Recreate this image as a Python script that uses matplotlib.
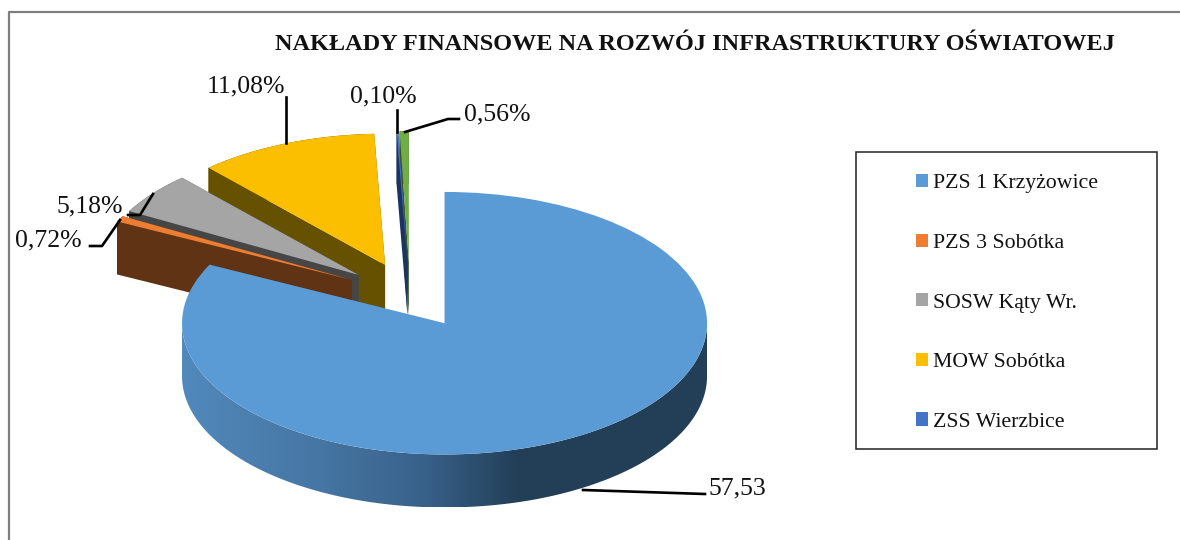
import numpy as np
import matplotlib
matplotlib.use("Agg")
import matplotlib.pyplot as plt
from matplotlib.colors import LinearSegmentedColormap
from matplotlib.lines import Line2D
from matplotlib.patches import Polygon, Rectangle

# data
schools = ["PZS 1 Krzyżowice", "PZS 3 Sobótka", "SOSW Kąty Wr.", "MOW Sobótka", "ZSS Wierzbice", ""]
shares = [82.36, 0.72, 5.18, 11.08, 0.10, 0.56]
share_labels = ["57,53", "0,72%", "5,18%", "11,08%", "0,10%", "0,56%"]
title = "NAKŁADY FINANSOWE NA ROZWÓJ INFRASTRUKTURY OŚWIATOWEJ"

top_colors = ["#5B9BD5", "#ED7D31", "#A5A5A5", "#FBBF00", "#4472C4", "#70AD47"]
wall_colors = ["#233F57", "#603314", "#464646", "#665100", "#1C3560", "#375623"]

W, H = 1180, 540
CX, CY, RX, RY = 410, 295.3, 262.5, 131.25   # pie centre and radii in pixels
DEPTH = 53 / RY

plt.rcParams['font.family'] = ['Liberation Serif', 'DejaVu Serif']


def fx(x):
    return x / W


def fy(y):
    return 1 - y / H


def arc_points(wedge, t0, t1):
    t = np.radians(np.linspace(t0, t1, 200))
    return wedge.center[0] + wedge.r * np.cos(t), wedge.center[1] + wedge.r * np.sin(t)


# puts the side faces of one slice under its top
def draw_walls(ax, wedge, color, z):
    xc, yc = wedge.center
    x, y = arc_points(wedge, wedge.theta1, wedge.theta2)
    for ex, ey in [(x[0], y[0]), (x[-1], y[-1])]:
        pts = [(xc, yc), (ex, ey), (ex, ey - DEPTH), (xc, yc - DEPTH)]
        ax.add_patch(Polygon(pts, closed=True, fc=color, ec='none', zorder=z))
    pts = list(zip(x, y)) + list(zip(x[::-1], y[::-1] - DEPTH))
    ax.add_patch(Polygon(pts, closed=True, fc=color, ec='none', zorder=z))


fig = plt.figure(figsize=(W / 100, H / 100), dpi=100)
ax = fig.add_axes([0, 0, 1, 1])
wedges, _ = ax.pie(shares, explode=[0.25] * len(shares), startangle=90, counterclock=False,
                   colors=top_colors, radius=1, wedgeprops={'linewidth': 0})
ax.set_aspect('auto')
xlim = (-CX / RX, (W - CX) / RX)
ylim = ((CY - H) / RY, CY / RY)

# back slices first, the big blue one last
order = [3, 2, 1, 5, 4]
z = 2
for i in order:
    draw_walls(ax, wedges[i], wall_colors[i], z)
    wedges[i].set_zorder(z + 1)
    z += 2

# front wall of the big slice, with the shading running left to right
blue = wedges[0]
x, y = arc_points(blue, 180, 360)
wall_pts = list(zip(x, y)) + list(zip(x[::-1], y[::-1] - DEPTH))
wall = Polygon(wall_pts, closed=True, fc='none', ec='none', zorder=z)
ax.add_patch(wall)
shade = LinearSegmentedColormap.from_list("wall", [(0, "#5189BC"), (0.26, "#4676A3"), (0.46, "#38618A"),
                                                   (0.64, "#233F57"), (1, "#233F57")])
im = ax.imshow(np.linspace(0, 1, 256).reshape(1, -1), cmap=shade, aspect='auto', zorder=z,
               extent=(x.min(), x.max(), y.min() - DEPTH, y.max()))
im.set_clip_path(wall)
blue.set_zorder(z + 1)
ax.set_xlim(xlim)
ax.set_ylim(ylim)
ax.axis('off')

# outer frame of the chart, open on the right
frame_color = "#7F7F7F"
fig.add_artist(Line2D([fx(9), fx(9), fx(1180)], [fy(540), fy(12), fy(12)], color=frame_color, lw=1.6))

fig.text(fx(695), fy(44), title, fontsize=17.5, fontweight='bold', ha='center', va='center', color='#111111')

# value labels with their leader lines
label_pos = {0: (708, 488, 'left'), 1: (82, 240, 'right'), 2: (123, 206, 'right'),
             3: (246, 86, 'center'), 4: (383, 96, 'center'), 5: (464, 114, 'left')}
leaders = {0: [(583, 490), (705, 494)],
           1: [(120, 220), (102, 246), (90, 246)],
           2: [(153, 194), (140, 215), (128, 215)],
           3: [(286, 97), (286, 143)],
           4: [(397, 110), (397, 132)],
           5: [(405, 132), (448, 119), (459, 119)]}
for i, lab in enumerate(share_labels):
    px, py, ha = label_pos[i]
    fig.text(fx(px), fy(py), lab, fontsize=18.5, ha=ha, va='center', color='#111111')
    xs = [fx(p[0]) for p in leaders[i]]
    ys = [fy(p[1]) for p in leaders[i]]
    fig.add_artist(Line2D(xs, ys, color='black', lw=1.9, zorder=20))

# legend box holds the first five schools only
fig.add_artist(Rectangle((fx(856), fy(449)), 301 / W, 297 / H, transform=fig.transFigure,
                         fc='white', ec='#222222', lw=1.1, zorder=1))
legend_handles = [Rectangle((0, 0), 1, 1, fc=c) for c in top_colors[:5]]
leg = fig.legend(legend_handles, schools[:5], loc='upper left', bbox_to_anchor=(fx(916), fy(174)),
                 frameon=False, fontsize=15.7, labelspacing=1.85, handlelength=0.55, handleheight=0.55,
                 handletextpad=0.25, borderpad=0, borderaxespad=0, labelcolor='#111111')
leg.set_zorder(5)

fig.savefig("out.png", dpi=100)
